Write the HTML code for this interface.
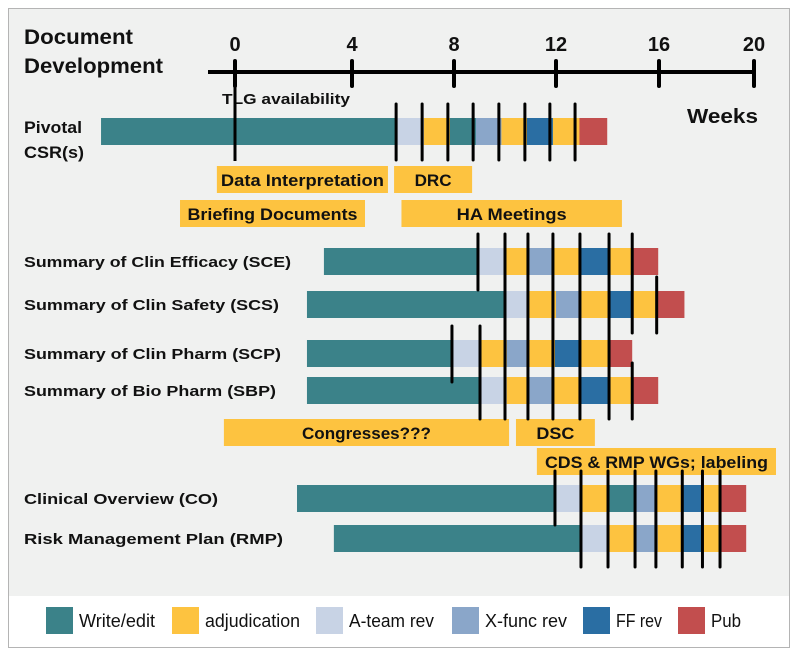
<!DOCTYPE html>
<html><head><meta charset="utf-8"><style>
html,body{margin:0;padding:0;background:#fff;}
svg{display:block;font-family:"Liberation Sans",sans-serif;}
</style></head><body>
<svg id="chart" width="799" height="659" viewBox="0 0 799 659" xmlns="http://www.w3.org/2000/svg">
<rect x="8.5" y="8.5" width="781" height="639" fill="#fff" stroke="#b4b4b4"/>
<rect x="9" y="9" width="780" height="587" fill="#f0f1f0"/>
<g font-weight="bold" font-size="21" fill="#111">
<text x="24" y="44" textLength="109" lengthAdjust="spacingAndGlyphs">Document</text>
<text x="24" y="73" textLength="139" lengthAdjust="spacingAndGlyphs">Development</text>
</g>
<text x="687" y="123" font-weight="bold" font-size="20" textLength="71" lengthAdjust="spacingAndGlyphs" fill="#111">Weeks</text>
<text x="222" y="104" font-weight="bold" font-size="15" textLength="128" lengthAdjust="spacingAndGlyphs" fill="#111">TLG availability</text>
<g id="axis"></g>
<g id="rowlabels"></g>
<g id="boxes"></g>
<g id="bars"></g>
<g id="lines"></g>
<g id="legend"></g>
</svg>
<script>
// ---- data ----
const tickWeeks = [0, 4, 8, 12, 16, 20];
const tickLabels = ["0", "4", "8", "12", "16", "20"];
const rowNames = ["Pivotal CSR(s)", "Summary of Clin Efficacy (SCE)", "Summary of Clin Safety (SCS)", "Summary of Clin Pharm (SCP)", "Summary of Bio Pharm (SBP)", "Clinical Overview (CO)", "Risk Management Plan (RMP)"];
// segment boundaries (weeks) and segment phases per row
const rowBounds = [
  [-4.58, 5.76, 6.82, 7.84, 8.86, 9.86, 10.86, 11.88, 12.91, 13.97],
  [3.04, 8.91, 10.0, 10.9, 11.88, 12.93, 14.06, 14.94, 15.95],
  [2.46, 10.0, 10.9, 12.0, 12.89, 14.1, 14.94, 15.91, 17.05],
  [2.46, 7.92, 9.06, 10.07, 10.9, 11.96, 12.89, 14.1, 14.94],
  [2.46, 8.98, 10.07, 10.9, 11.88, 12.89, 14.02, 14.94, 15.95],
  [2.12, 11.96, 12.93, 14.02, 15.07, 15.88, 16.96, 17.8, 18.6, 19.65],
  [3.38, 12.93, 14.02, 15.07, 15.95, 16.96, 17.8, 18.6, 19.65]
];
const rowPhases = [
  ["write", "ateam", "adj", "write", "xfunc", "adj", "ff", "adj", "pub"],
  ["write", "ateam", "adj", "xfunc", "adj", "ff", "adj", "pub"],
  ["write", "ateam", "adj", "xfunc", "adj", "ff", "adj", "pub"],
  ["write", "ateam", "adj", "xfunc", "adj", "ff", "adj", "pub"],
  ["write", "ateam", "adj", "xfunc", "adj", "ff", "adj", "pub"],
  ["write", "ateam", "adj", "write", "xfunc", "adj", "ff", "adj", "pub"],
  ["write", "ateam", "adj", "xfunc", "adj", "ff", "adj", "pub"]
];
// review lines: week, first row, last row, end at bottom(1) or top(0) of last row
const lineWeeks = [5.73, 6.75, 7.76, 8.75, 9.76, 10.78, 11.76, 12.74, 8.94, 10.0, 10.9, 11.88, 12.93, 14.06, 14.96, 14.96, 15.91, 7.92, 9.02, 11.96, 12.97, 14.02, 15.07, 15.88, 16.98, 17.83, 18.57];
const lineFromRow = [0, 0, 0, 0, 0, 0, 0, 0, 1, 1, 1, 1, 1, 1, 1, 4, 2, 3, 3, 5, 5, 5, 5, 5, 5, 5, 5];
const lineToRow = [0, 0, 0, 0, 0, 0, 0, 0, 1, 4, 4, 4, 4, 4, 2, 4, 2, 3, 4, 6, 6, 6, 6, 6, 6, 6, 6];
const lineToEdge = [1, 1, 1, 1, 1, 1, 1, 1, 1, 1, 1, 1, 1, 1, 1, 1, 1, 1, 1, 0, 1, 1, 1, 1, 1, 1, 1];
const tlgWeek = 0;
// milestone boxes
const boxLabels = ["Data Interpretation", "DRC", "Briefing Documents", "HA Meetings", "Congresses???", "DSC", "CDS & RMP WGs; labeling"];
const boxStart = [-0.62, 5.65, -1.88, 5.94, -0.38, 10.43, 11.25];
const boxEnd = [5.41, 8.71, 4.51, 14.56, 10.16, 13.51, 20.93];
const boxLane = [0, 0, 1, 1, 2, 2, 3];
const legendKeys = ["write", "adj", "ateam", "xfunc", "ff", "pub"];
const legendLabels = ["Write/edit", "adjudication", "A-team rev", "X-func rev", "FF rev", "Pub"];

// ---- layout config ----
const colors = {write:"#3b8289", adj:"#fdc340", ateam:"#c8d3e5", xfunc:"#8aa6c9", ff:"#2a6ea3", pub:"#c24e4e"};
const tickPx = [235, 352, 454, 556, 659, 754];
const rowTop = [118, 248, 291, 340, 377, 485, 525];
const barH = 27;
const laneTop = [166, 200, 419, 448];
const laneH = 27;
const boxTextW = [163, 37, 170, 110, 129, 38, 223];
const NS = "http://www.w3.org/2000/svg";
function x(w){
  const n = tickWeeks.length;
  if (w <= tickWeeks[0]) return tickPx[0] + (w - tickWeeks[0]) * (tickPx[1]-tickPx[0])/(tickWeeks[1]-tickWeeks[0]);
  for (let i=1;i<n;i++){
    if (w <= tickWeeks[i] || i===n-1){
      return tickPx[i-1] + (w - tickWeeks[i-1]) * (tickPx[i]-tickPx[i-1])/(tickWeeks[i]-tickWeeks[i-1]);
    }
  }
}
function mk(tag, attrs, parent){
  const e = document.createElementNS(NS, tag);
  for (const k in attrs) e.setAttribute(k, attrs[k]);
  parent.appendChild(e);
  return e;
}
// axis
const ax = document.getElementById('axis');
let axl = mk('line', {x1:208, x2:x(tickWeeks[tickWeeks.length-1]), y1:72, y2:72, stroke:"#000", "stroke-width":4}, ax);


tickWeeks.forEach((w,i)=>{
  const t = mk('line', {x1:x(w), x2:x(w), y1:61, y2:86, stroke:"#000", "stroke-width":4, "stroke-linecap":"round"}, ax);
  
  
  const lb = mk('text', {x:x(w), y:51, "text-anchor":"middle", "font-weight":"bold", "font-size":20, fill:"#111"}, ax);
  
  
  lb.textContent = tickLabels[i];
});
// row labels
const rl = document.getElementById('rowlabels');
const rlWidths = [0, 267, 255, 257, 252, 194, 259];
rowNames.forEach((n,i)=>{
  if (i===0){
    ["Pivotal","CSR(s)"].forEach((s,j)=>{
      const t = mk('text', {x:24, y:133+j*25, "font-weight":"bold", "font-size":17, fill:"#111", textLength:(j?60:58), lengthAdjust:"spacingAndGlyphs"}, rl);
      
      
      t.textContent = s;
    });
    return;
  }
  const t = mk('text', {x:24, y:rowTop[i]+19, "font-weight":"bold", "font-size":15, fill:"#111", textLength:rlWidths[i], lengthAdjust:"spacingAndGlyphs"}, rl);
  
  
  t.textContent = n;
});
// boxes
const bx = document.getElementById('boxes');
boxLabels.forEach((l,i)=>{
  const x0 = x(boxStart[i]), x1 = Math.min(x(boxEnd[i]), 776);
  const r = mk('rect', {x:x0, y:laneTop[boxLane[i]], width:x1-x0, height:laneH, fill:colors.adj}, bx);
  
  
  const t = mk('text', {x:(x0+x1)/2, y:laneTop[boxLane[i]]+20, "text-anchor":"middle", "font-weight":"bold", "font-size":17, fill:"#111", textLength:boxTextW[i], lengthAdjust:"spacingAndGlyphs"}, bx);
  
  
  t.textContent = l;
});
// bars
const br = document.getElementById('bars');
rowBounds.forEach((b,ri)=>{
  for (let k=0;k<b.length-1;k++){
    const x0 = x(b[k]), x1 = x(b[k+1]);
    const r = mk('rect', {x:x0, y:rowTop[ri], width:x1-x0+0.5, height:barH, fill:colors[rowPhases[ri][k]]}, br);
    
    
  }
});
// lines
const ln = document.getElementById('lines');
const tl = mk('line', {x1:x(tlgWeek), x2:x(tlgWeek), y1:63, y2:rowTop[0]+barH+16, stroke:"#000", "stroke-width":3}, ln);


lineWeeks.forEach((w,i)=>{
  const y1 = rowTop[lineFromRow[i]] - 14;
  const y2 = lineToEdge[i] ? rowTop[lineToRow[i]] + barH + 15 : rowTop[lineToRow[i]];
  const l = mk('line', {x1:x(w), x2:x(w), y1:y1, y2:y2, stroke:"#000", "stroke-width":3, "stroke-linecap":"round"}, ln);
  
  
});
// legend
const lg = document.getElementById('legend');
const lgX = [46, 172, 316, 452, 583, 678];
const lgW = [76, 95, 85, 82, 46, 30];
legendKeys.forEach((k,i)=>{
  const r = mk('rect', {x:lgX[i], y:607, width:27, height:27, fill:colors[k]}, lg);
  
  
  const t = mk('text', {x:lgX[i]+33, y:627, "font-size":18, fill:"#111", textLength:lgW[i], lengthAdjust:"spacingAndGlyphs"}, lg);
  
  
  t.textContent = legendLabels[i];
});
</script>
</body></html>
